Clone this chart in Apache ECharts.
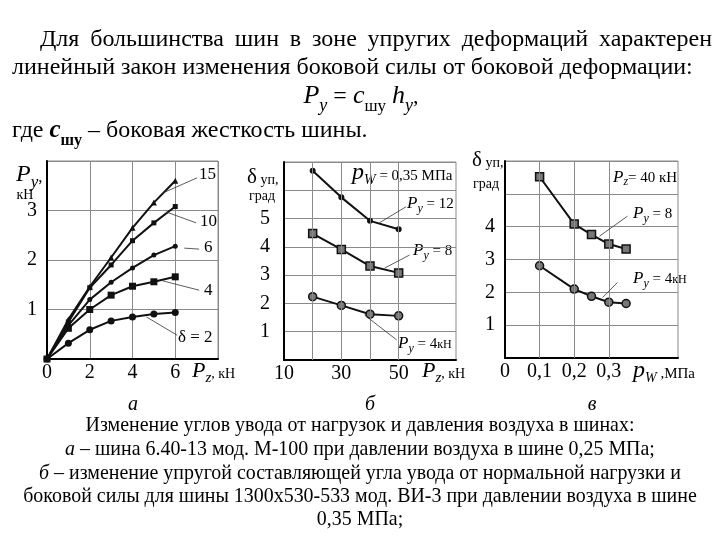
<!DOCTYPE html>
<html><head><meta charset="utf-8">
<script src="https://cdn.jsdelivr.net/npm/echarts@6/dist/echarts.min.js"></script>
<style>html,body{margin:0;padding:0;background:#fff}#c{width:720px;height:540px}</style>
</head><body><div id="c"></div>
<script>
// ---------- data ----------
// chart а: Py (кН) vs Pz (кН) for δ = 2,4,6,10,15
const aX   = [0, 1, 2, 3, 4, 5, 6];
const aD2  = [0, 0.32, 0.59, 0.77, 0.85, 0.91, 0.94];
const aD4  = [0, 0.62, 1.00, 1.29, 1.47, 1.56, 1.66];
const aD6  = [0, 0.68, 1.20, 1.55, 1.84, 2.10, 2.28];
const aD10 = [0, 0.75, 1.44, 1.90, 2.39, 2.75, 3.08];
const aD15 = [0, 0.80, 1.46, 2.05, 2.65, 3.16, 3.60];
const aXTicks = [0, 2, 4, 6];
const aYTicks = [1, 2, 3];
// chart б: δуп (град) vs Pz (кН)
const bX    = [20, 30, 40, 50];
const bPy12 = [6.69, 5.75, 4.92, 4.62];
const bPy8  = [4.47, 3.91, 3.32, 3.08];
const bPy4  = [2.24, 1.93, 1.62, 1.56];
const bXTicks = [10, 30, 50];
const bYTicks = [1, 2, 3, 4, 5];
const bGridX = [20, 30, 40, 50];
// chart в: δуп (град) vs pw (МПа)
const cX   = [0.1, 0.2, 0.25, 0.3, 0.35];
const cPy8 = [5.52, 4.08, 3.76, 3.47, 3.32];
const cPy4 = [2.81, 2.10, 1.88, 1.70, 1.66];
const cXTicks = ['0', '0,1', '0,2', '0,3'];
const cYTicks = [1, 2, 3, 4];
const cGridX = [0.1, 0.2, 0.3];

// ---------- text helpers ----------
const FAM = 'Liberation Serif';
const mctx = document.createElement('canvas').getContext('2d');
function fstr(size, st) {
  st = st || '';
  return (st.indexOf('i') >= 0 ? 'italic ' : '') + (st.indexOf('b') >= 0 ? 'bold ' : '') + size + 'px "' + FAM + '"';
}
function tw(text, size, st) { mctx.font = fstr(size, st); return mctx.measureText(text).width; }
function T(x, base, text, size, st, align) {
  st = st || '';
  return {
    type: 'text', x: x, y: base - 0.3375 * size, silent: true,
    style: { text: text, fill: '#000', fontFamily: FAM, fontSize: size,
      fontStyle: st.indexOf('i') >= 0 ? 'italic' : 'normal',
      fontWeight: st.indexOf('b') >= 0 ? 'bold' : 'normal',
      textAlign: align || 'left', textVerticalAlign: 'middle', align: align || 'left', verticalAlign: 'middle' }
  };
}
// parts: [text, size, style, dy]
function runs(x, base, parts, align) {
  const ws = parts.map(p => tw(p[0], p[1], p[2]));
  const total = ws.reduce((a, b) => a + b, 0);
  let cx = align === 'center' ? x - total / 2 : (align === 'right' ? x - total : x);
  const els = [];
  parts.forEach((p, i) => { els.push(T(cx, base + (p[3] || 0), p[0], p[1], p[2])); cx += ws[i]; });
  return els;
}
function justify(x0, x1, base, text, size) {
  const words = text.split(' ');
  const ws = words.map(w => tw(w, size));
  const sum = ws.reduce((a, b) => a + b, 0);
  const gap = (x1 - x0 - sum) / (words.length - 1);
  let cx = x0; const els = [];
  words.forEach((w, i) => { els.push(T(cx, base, w, size)); cx += ws[i] + gap; });
  return els;
}

// ---------- texts ----------
const line1 = 'Для большинства шин в зоне упругих деформаций характерен';
const line2 = 'линейный закон изменения боковой силы от боковой деформации:';
const topFs = 22 * 681 / tw(line2, 22);
const cap = [
  null,
  'Изменение углов увода от нагрузок и давления воздуха в шинах:',
  ' – шина 6.40-13 мод. М-100 при давлении воздуха в шине 0,25 МПа;',
  ' – изменение упругой составляющей угла увода от нормальной нагрузки и',
  'боковой силы для шины 1300х530-533 мод. ВИ-3 при давлении воздуха в шине',
  '0,35 МПа;'
];
const capFs = 19 * 674 / tw(cap[4], 19);

let G = [];
G = G.concat(justify(40, 712, 48, line1, topFs));
G.push(T(12, 76, line2, topFs));
G = G.concat(runs(361, 105, [
  ['P', 26, 'i', 0], ['y', 18, 'i', 7], [' = ', 24, '', 0], ['c', 26, 'i', 0], ['шу', 17, '', 7],
  [' ', 24, '', 0], ['h', 26, 'i', 0], ['y', 18, 'i', 7], [',', 22, '', 0]
], 'center'));
G = G.concat(runs(12, 139, [
  ['где ', topFs, '', 0], ['c', 25, 'ib', 0], ['шу', 16, 'b', 7], [' – боковая жесткость шины.', topFs, '', 0]
]));
// captions
G.push(T(133, 411, 'а', 20, 'i', 'center'));
G.push(T(370, 411, 'б', 20, 'i', 'center'));
G.push(T(592, 411, 'в', 20, 'i', 'center'));
G.push(T(360, 432, cap[1], capFs, '', 'center'));
G = G.concat(runs(360, 456, [['а', capFs, 'i'], [cap[2], capFs, '']], 'center'));
G = G.concat(runs(360, 480, [['б', capFs, 'i'], [cap[3], capFs, '']], 'center'));
G.push(T(360, 503, cap[4], capFs, '', 'center'));
G.push(T(360, 526, cap[5], capFs, '', 'center'));

// chart а texts
G = G.concat(runs(16, 183, [['P', 24, 'i', 0], ['y', 17, 'i', 5], [',', 17, '', 0]]));
G.push(T(25, 200, 'кН', 14, '', 'center'));
G = G.concat(runs(192, 379, [['P', 22, 'i', 0], ['z', 15, 'i', 4], [', кН', 14, '', 0]]));
G.push(T(199, 180, '15', 17));
G.push(T(200, 227, '10', 17));
G.push(T(204, 253, '6', 17));
G.push(T(204, 296, '4', 17));
G.push(T(178, 343, 'δ = 2', 17));
// chart б texts
G = G.concat(runs(247, 185, [['δ', 21, '', 0], [' уп,', 14, '', 0]]));
G.push(T(249, 201, 'град', 14));
G = G.concat(runs(422, 379, [['P', 22, 'i', 0], ['z', 15, 'i', 4], [', кН', 14, '', 0]]));
G = G.concat(runs(352, 181, [['p', 24, 'i', 0], ['W', 14, 'i', 4], [' = 0,35 МПа', 15, '', 0]]));
G = G.concat(runs(407, 209, [['P', 17, 'i', 0], ['y', 12, 'i', 4], [' = 12', 15, '', 0]]));
G = G.concat(runs(413, 256, [['P', 17, 'i', 0], ['y', 12, 'i', 4], [' = 8', 15, '', 0]]));
G = G.concat(runs(398, 349, [['P', 17, 'i', 0], ['y', 12, 'i', 4], [' = 4', 15, '', 0], ['кН', 12, '', 0]]));
// chart в texts
G = G.concat(runs(472, 168, [['δ', 21, '', 0], [' уп,', 14, '', 0]]));
G.push(T(473, 189, 'град', 14));
G = G.concat(runs(633, 379, [['p', 24, 'i', 0], ['W', 14, 'i', 4], [' ,МПа', 15, '', 0]]));
G = G.concat(runs(613, 183, [['P', 17, 'i', 0], ['z', 12, 'i', 3], ['= 40 кН', 15, '', 0]]));
G = G.concat(runs(633, 219, [['P', 17, 'i', 0], ['y', 12, 'i', 4], [' = 8', 15, '', 0]]));
G = G.concat(runs(633, 284, [['P', 17, 'i', 0], ['y', 12, 'i', 4], [' = 4', 15, '', 0], ['кН', 12, '', 0]]));

// ---------- chart options ----------
const GRID_C = '#8a8a8a';
function xy(xs, ys) { return xs.map((x, i) => [x, ys[i]]); }
function axisCommon(extra) {
  return Object.assign({
    type: 'value',
    axisLine: { show: true, onZero: false, lineStyle: { color: '#000', width: 2 } },
    axisTick: { show: false },
    splitLine: { show: true, lineStyle: { color: GRID_C, width: 1 } },
    axisLabel: { color: '#000', fontFamily: FAM, fontSize: 20 }
  }, extra);
}
function ser(xi, data, symbol, size, fill) {
  return {
    type: 'line', xAxisIndex: xi, yAxisIndex: xi, data: data, symbol: symbol, symbolSize: size,
    showSymbol: true, z: 3, silent: true,
    lineStyle: { color: '#111', width: 2 },
    itemStyle: { color: fill || '#111', borderColor: '#111', borderWidth: fill ? 1.5 : 0 }
  };
}
function helper(xi, verticals, leaders) {
  const d = [];
  verticals.forEach(v => d.push({ xAxis: v, lineStyle: { color: GRID_C, width: 1, type: 'solid' } }));
  leaders.forEach(l => d.push([{ coord: l[0], lineStyle: { color: '#333', width: 0.8, type: 'solid' } }, { coord: l[1] }]));
  return {
    type: 'line', xAxisIndex: xi, yAxisIndex: xi, data: [], z: 1, silent: true,
    markLine: { silent: true, symbol: ['none', 'none'], label: { show: false }, animation: false, data: d }
  };
}

const option = {
  animation: false,
  backgroundColor: '#fff',
  grid: [
    { left: 47, top: 161, width: 171, height: 198, show: true, borderColor: GRID_C, borderWidth: 1 },
    { left: 284, top: 162, width: 172, height: 198, show: true, borderColor: GRID_C, borderWidth: 1 },
    { left: 505, top: 161, width: 173, height: 197, show: true, borderColor: GRID_C, borderWidth: 1 }
  ],
  xAxis: [
    axisCommon({ gridIndex: 0, min: 0, max: 8, interval: 2,
      axisLabel: { color: '#000', fontFamily: FAM, fontSize: 20, margin: 4,
        formatter: v => aXTicks.indexOf(v) >= 0 ? String(v) : '' } }),
    axisCommon({ gridIndex: 1, min: 10, max: 70, interval: 10, splitLine: { show: false },
      axisLabel: { color: '#000', fontFamily: FAM, fontSize: 20, margin: 4,
        formatter: v => bXTicks.indexOf(v) >= 0 ? String(v) : '' } }),
    axisCommon({ gridIndex: 2, min: 0, max: 0.5, interval: 0.1, splitLine: { show: false },
      axisLabel: { color: '#000', fontFamily: FAM, fontSize: 20, margin: 4,
        formatter: v => { const i = Math.round(v * 10); return i < cXTicks.length ? cXTicks[i] : ''; } } })
  ],
  yAxis: [
    axisCommon({ gridIndex: 0, min: 0, max: 4, interval: 1,
      axisLabel: { color: '#000', fontFamily: FAM, fontSize: 20, margin: 10,
        formatter: v => aYTicks.indexOf(v) >= 0 ? String(v) : '' } }),
    axisCommon({ gridIndex: 1, min: 0, max: 7, interval: 1,
      axisLabel: { color: '#000', fontFamily: FAM, fontSize: 20, margin: 14,
        formatter: v => bYTicks.indexOf(v) >= 0 ? String(v) : '' } }),
    axisCommon({ gridIndex: 2, min: 0, max: 6, interval: 1,
      axisLabel: { color: '#000', fontFamily: FAM, fontSize: 20, margin: 10,
        formatter: v => cYTicks.indexOf(v) >= 0 ? String(v) : '' } })
  ],
  series: [
    helper(0, [], [
      [[5.4, 3.35], [7.02, 3.66]], [[5.58, 2.97], [6.98, 2.75]], [[6.42, 2.24], [7.12, 2.22]],
      [[5.4, 1.58], [7.12, 1.39]], [[4.65, 0.85], [6.09, 0.48]]
    ]),
    ser(0, xy(aX, aD2), 'circle', 7),
    ser(0, xy(aX, aD4), 'rect', 7),
    ser(0, xy(aX, aD6), 'circle', 5),
    ser(0, xy(aX, aD10), 'rect', 5),
    ser(0, xy(aX, aD15), 'triangle', 6),
    helper(1, bGridX, [
      [[43.3, 4.85], [52.6, 5.42]], [[45.1, 3.25], [53.8, 3.71]], [[38.1, 1.59], [49.3, 0.71]]
    ]),
    ser(1, xy(bX, bPy12), 'circle', 6),
    ser(1, xy(bX, bPy8), 'rect', 8, '#777'),
    ser(1, xy(bX, bPy4), 'circle', 8, '#777'),
    helper(2, cGridX, [
      [[0.273, 3.71], [0.354, 4.32]], [[0.282, 1.84], [0.325, 2.30]]
    ]),
    ser(2, xy(cX, cPy8), 'rect', 8, '#777'),
    ser(2, xy(cX, cPy4), 'circle', 8, '#777')
  ],
  graphic: { elements: G }
};
const chart = echarts.init(document.getElementById('c'), null, { renderer: 'canvas' });
chart.setOption(option);
</script>
</body></html>
